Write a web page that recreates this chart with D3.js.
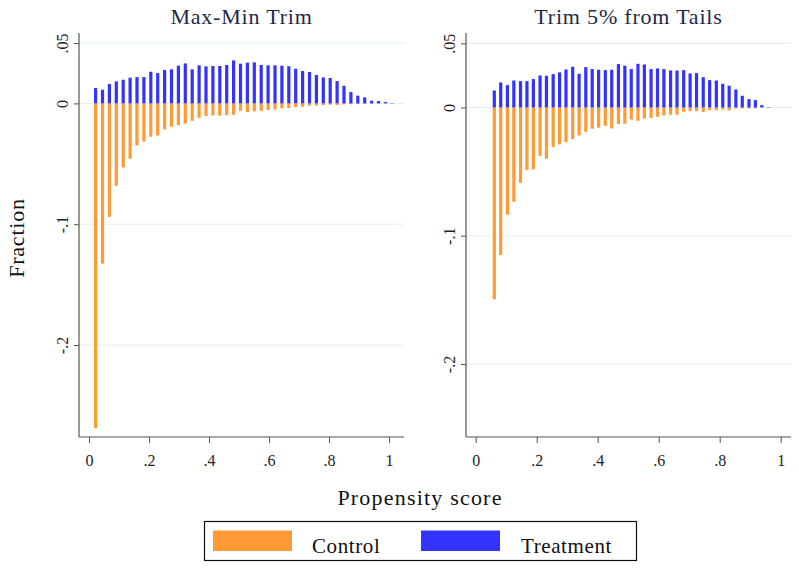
<!DOCTYPE html>
<html>
<head>
<meta charset="utf-8">
<script src="https://cdn.jsdelivr.net/npm/d3@7/dist/d3.min.js"></script>
<style>
  html, body { margin: 0; padding: 0; background: #fff; }
  svg text { font-family: 'Liberation Serif', 'DejaVu Serif', serif !important; }
</style>
</head>
<body>
<svg id="chart" width="799" height="569"></svg>
<script>
// ---------------- data ----------------
const leftBins = [0.022, 0.045, 0.068, 0.091, 0.114, 0.137, 0.160, 0.183, 0.206, 0.229, 0.252,
  0.275, 0.298, 0.321, 0.344, 0.367, 0.390, 0.413, 0.436, 0.459, 0.482, 0.505, 0.528, 0.551,
  0.574, 0.597, 0.620, 0.643, 0.666, 0.689, 0.712, 0.735, 0.758, 0.781, 0.804, 0.827, 0.850,
  0.873, 0.896, 0.919, 0.942, 0.965, 0.988, 1.011];
const leftTreatment = [0.0127, 0.0113, 0.0160, 0.0182, 0.0196, 0.0213, 0.0218, 0.0218, 0.0262,
  0.0251, 0.0276, 0.0282, 0.0312, 0.0331, 0.0282, 0.0315, 0.0307, 0.0310, 0.0310, 0.0318,
  0.0356, 0.0329, 0.0337, 0.0340, 0.0318, 0.0315, 0.0315, 0.0312, 0.0307, 0.0287, 0.0268,
  0.0260, 0.0235, 0.0215, 0.0210, 0.0185, 0.0146, 0.0094, 0.0064, 0.0050, 0.0022, 0.0019,
  0.0011, 0.0003];
const leftControl = [-0.2687, -0.1326, -0.0939, -0.0682, -0.0530, -0.0458, -0.0348, -0.0315,
  -0.0276, -0.0265, -0.0215, -0.0193, -0.0180, -0.0166, -0.0144, -0.0119, -0.0105, -0.0099,
  -0.0102, -0.0097, -0.0094, -0.0061, -0.0072, -0.0066, -0.0061, -0.0055, -0.0050, -0.0041,
  -0.0039, -0.0030, -0.0028, -0.0019, -0.0017, -0.0014, -0.0011, -0.0014, -0.0008, -0.0006,
  -0.0005, -0.0005, -0.0002, -0.0002, 0, 0];

const rightBins = [0.061, 0.082, 0.104, 0.125, 0.147, 0.168, 0.189, 0.211, 0.232, 0.254, 0.275,
  0.296, 0.318, 0.339, 0.361, 0.382, 0.403, 0.425, 0.446, 0.468, 0.489, 0.510, 0.532, 0.553,
  0.575, 0.596, 0.617, 0.639, 0.660, 0.682, 0.703, 0.724, 0.746, 0.767, 0.789, 0.810, 0.831,
  0.853, 0.874, 0.896, 0.917, 0.938, 0.960];
const rightTreatment = [0.0132, 0.0195, 0.0174, 0.0210, 0.0205, 0.0205, 0.0221, 0.0249, 0.0247,
  0.0260, 0.0273, 0.0296, 0.0317, 0.0262, 0.0314, 0.0299, 0.0294, 0.0291, 0.0294, 0.0338,
  0.0325, 0.0299, 0.0340, 0.0335, 0.0299, 0.0304, 0.0299, 0.0288, 0.0288, 0.0291, 0.0265,
  0.0268, 0.0236, 0.0213, 0.0210, 0.0184, 0.0169, 0.0140, 0.0091, 0.0065, 0.0057, 0.0018,
  0.0003];
const rightControl = [-0.1496, -0.1151, -0.0836, -0.0735, -0.0587, -0.0488, -0.0483, -0.0377,
  -0.0400, -0.0309, -0.0288, -0.0270, -0.0247, -0.0218, -0.0190, -0.0166, -0.0158, -0.0143,
  -0.0164, -0.0130, -0.0127, -0.0094, -0.0104, -0.0086, -0.0081, -0.0073, -0.0062, -0.0057,
  -0.0057, -0.0034, -0.0029, -0.0029, -0.0036, -0.0021, -0.0021, -0.0016, -0.0023, -0.0008,
  -0.0008, -0.0008, -0.0008, 0, 0];

const xTicks = [0, 0.2, 0.4, 0.6, 0.8, 1];
const xTickLabels = ["0", ".2", ".4", ".6", ".8", "1"];
const yTicks = [0.05, 0, -0.1, -0.2];
const yTickLabels = [".05", "0", "-.1", "-.2"];

const titles = ["Max-Min Trim", "Trim 5% from Tails"];
const seriesNames = ["Control", "Treatment"];
const colors = { Control: "#ff9a36", Treatment: "#3333ff" };

// ---------------- layout ----------------
const svg = d3.select("#chart");
const panels = [
  { title: titles[0], bins: leftBins, ctrl: leftControl, treat: leftTreatment,
    left: 79, right: 404, top: 33, bottom: 437,
    xr: [89, 389], yr: [43, 345] },
  { title: titles[1], bins: rightBins, ctrl: rightControl, treat: rightTreatment,
    left: 466, right: 791, top: 33, bottom: 437,
    xr: [475.7, 780.7], yr: [43.3, 364] }
];

panels.forEach(p => {
  const x = d3.scaleLinear().domain([0, 1]).range(p.xr);
  const y = d3.scaleLinear().domain([0.05, -0.2]).range(p.yr);
  const g = svg.append("g");

  // gridlines
  g.selectAll("line.grid").data(yTicks).join("line")
    .attr("x1", p.left).attr("x2", p.right)
    .attr("y1", d => y(d)).attr("y2", d => y(d))
    .attr("stroke", "#e4eff0").attr("stroke-width", 1);

  const bw = 3.2;
  g.selectAll("rect.c").data(p.bins.map((b, i) => [b, p.ctrl[i]])).join("rect")
    .attr("x", d => x(d[0]) - bw / 2).attr("width", bw)
    .attr("y", d => y(0)).attr("height", d => Math.max(0, y(d[1]) - y(0)))
    .attr("fill", colors.Control);
  g.selectAll("rect.t").data(p.bins.map((b, i) => [b, p.treat[i]])).join("rect")
    .attr("x", d => x(d[0]) - bw / 2).attr("width", bw)
    .attr("y", d => y(d[1])).attr("height", d => Math.max(0, y(0) - y(d[1])))
    .attr("fill", colors.Treatment);

  // y axis
  const ya = g.append("g").attr("transform", `translate(${p.left},0)`)
    .call(d3.axisLeft(y).tickValues(yTicks).tickFormat((d, i) => yTickLabels[i]).tickSize(5).tickSizeOuter(0));
  ya.select(".domain").remove();
  ya.append("line").attr("x1", 0).attr("x2", 0).attr("y1", p.top).attr("y2", p.bottom)
    .attr("stroke", "#555").attr("stroke-width", 1.2);
  ya.selectAll(".tick line").attr("stroke", "#555");
  ya.selectAll(".tick text")
    .attr("x", 0).attr("y", -11).attr("dy", 0)
    .attr("transform", "rotate(-90)")
    .attr("text-anchor", "middle")
    .attr("font-size", 16)
    .attr("fill", "#222");

  // x axis
  const xa = g.append("g").attr("transform", `translate(0,${p.bottom})`)
    .call(d3.axisBottom(x).tickValues(xTicks).tickFormat((d, i) => xTickLabels[i]).tickSize(6).tickSizeOuter(0));
  xa.select(".domain").remove();
  xa.append("line").attr("x1", p.left).attr("x2", p.right).attr("y1", 0).attr("y2", 0)
    .attr("stroke", "#555").attr("stroke-width", 1.2);
  xa.selectAll(".tick line").attr("stroke", "#555");
  xa.selectAll(".tick text")
    .attr("y", 29).attr("dy", 0)
    .attr("font-size", 16)
    .attr("fill", "#222");

  // title
  svg.append("text")
    .attr("x", (p.left + p.right) / 2).attr("y", 24)
    .attr("text-anchor", "middle")
    .attr("font-size", 22).attr("letter-spacing", 0.8)
    .attr("fill", "#1e2a48")
    .text(p.title);
});

// y-axis title
svg.append("text")
  .attr("transform", "translate(24,238) rotate(-90)")
  .attr("text-anchor", "middle")
  .attr("font-size", 22).attr("letter-spacing", 0.8)
  .attr("fill", "#111")
  .text("Fraction");

// x-axis title
svg.append("text")
  .attr("x", 420).attr("y", 505)
  .attr("text-anchor", "middle")
  .attr("font-size", 22).attr("letter-spacing", 1.2)
  .attr("fill", "#111")
  .text("Propensity score");

// legend
const lg = svg.append("g");
lg.append("rect").attr("x", 204.5).attr("y", 521.5).attr("width", 432).attr("height", 39)
  .attr("fill", "#fff").attr("stroke", "#111").attr("stroke-width", 1.2);
const legendItems = [
  { name: seriesNames[0], sx: 213, tx: 312 },
  { name: seriesNames[1], sx: 421, tx: 521 }
];
legendItems.forEach(it => {
  lg.append("rect").attr("x", it.sx).attr("y", 530.5).attr("width", 79).attr("height", 20.5)
    .attr("fill", colors[it.name]);
  lg.append("text").attr("x", it.tx).attr("y", 553)
    .attr("font-size", 21).attr("letter-spacing", 0.6)
    .attr("fill", "#111")
    .text(it.name);
});
</script>
</body>
</html>
